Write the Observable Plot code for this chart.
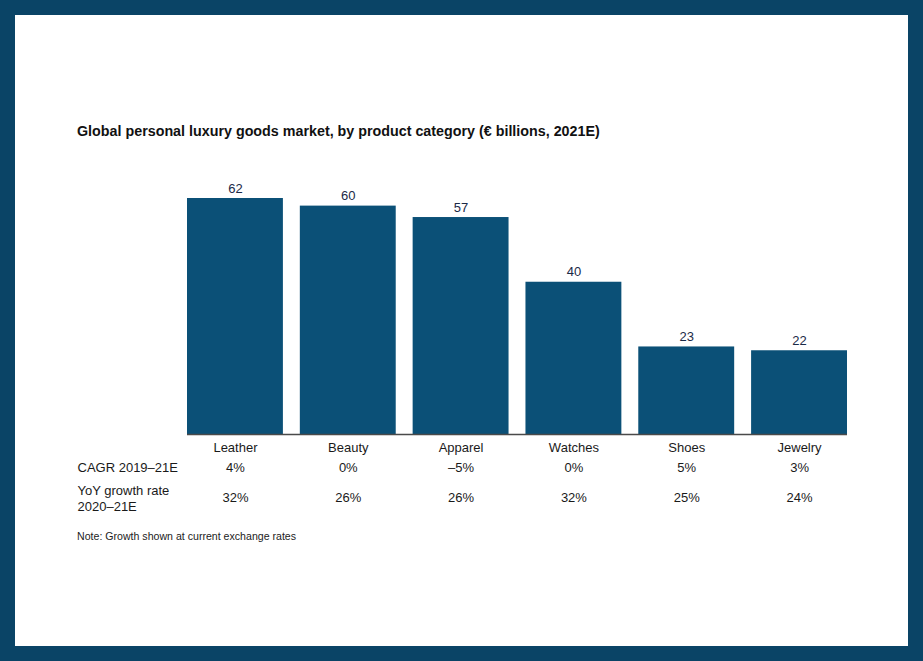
<!DOCTYPE html>
<html>
<head>
<meta charset="utf-8">
<script src="https://cdn.jsdelivr.net/npm/d3@7"></script>
<script src="https://cdn.jsdelivr.net/npm/@observablehq/plot@0.6"></script>
<style>
  html, body { margin: 0; padding: 0; }
  body { width: 923px; height: 661px; background: #0a4466; position: relative; overflow: hidden; font-family: "Liberation Sans", Arial, Helvetica, sans-serif; }
  #panel { position: absolute; left: 15px; top: 15px; width: 893px; height: 631px; background: #ffffff; }
  #chart { position: absolute; left: 0; top: 0; }
  #title { position: absolute; left: 62px; top: 108px; font-size: 14.3px; font-weight: bold; color: #111; white-space: nowrap; z-index: 2; }
  #note { position: absolute; left: 62px; top: 515px; font-size: 10.6px; color: #222; white-space: nowrap; z-index: 2; }
</style>
</head>
<body>
<div id="panel">
  <div id="chart"></div>
  <div id="title">Global personal luxury goods market, by product category (€ billions, 2021E)</div>
  <div id="note">Note: Growth shown at current exchange rates</div>
</div>
<script>
const categories = ["Leather", "Beauty", "Apparel", "Watches", "Shoes", "Jewelry"];
const values = [62, 60, 57, 40, 23, 22];
const cagr = ["4%", "0%", "\u20135%", "0%", "5%", "3%"];
const yoy = ["32%", "26%", "26%", "32%", "25%", "24%"];
const rowLabels = ["CAGR 2019\u201321E", "YoY growth rate\n2020\u201321E"];

const data = categories.map((c, i) => ({category: c, value: values[i], cagr: cagr[i], yoy: yoy[i]}));

const barColor = "#0b5077";
const textDark = "#1a1a1a";

const chart = Plot.plot({
  width: 893,
  height: 631,
  marginTop: 183,
  marginBottom: 212,
  marginLeft: 172,
  marginRight: 61,
  style: {background: "#ffffff", fontFamily: "'Liberation Sans', Arial, Helvetica, sans-serif", fontSize: "13px", overflow: "visible"},
  x: {domain: categories, paddingInner: 0.15, paddingOuter: 0, round: false, axis: null},
  y: {domain: [0, 62], axis: null},
  marks: [
    Plot.barY(data, {x: "category", y: "value", fill: barColor}),
    Plot.ruleY([0], {stroke: "#4a4a4a", strokeWidth: 1.5}),
    Plot.text(data, {x: "category", y: "value", text: d => String(d.value), dy: -6, lineAnchor: "bottom", fill: "#1b2a47", fontSize: 13}),
    Plot.text(data, {x: "category", y: () => 0, text: "category", dy: 17, lineAnchor: "bottom", fill: textDark, fontSize: 13}),
    Plot.text(data, {x: "category", y: () => 0, text: "cagr", dy: 37, lineAnchor: "bottom", fill: textDark, fontSize: 13}),
    Plot.text(data, {x: "category", y: () => 0, text: "yoy", dy: 67, lineAnchor: "bottom", fill: textDark, fontSize: 13}),
    Plot.text([rowLabels[0]], {y: () => 0, frameAnchor: "left", text: d => d, textAnchor: "start", dx: -110, dy: 37, lineAnchor: "bottom", fill: textDark, fontSize: 13}),
    Plot.text([rowLabels[1]], {y: () => 0, frameAnchor: "left", text: d => d, textAnchor: "start", dx: -110, dy: 76, lineAnchor: "bottom", lineHeight: 1.23, fill: textDark, fontSize: 13})
  ]
});
document.getElementById("chart").appendChild(chart);
</script>
</body>
</html>
